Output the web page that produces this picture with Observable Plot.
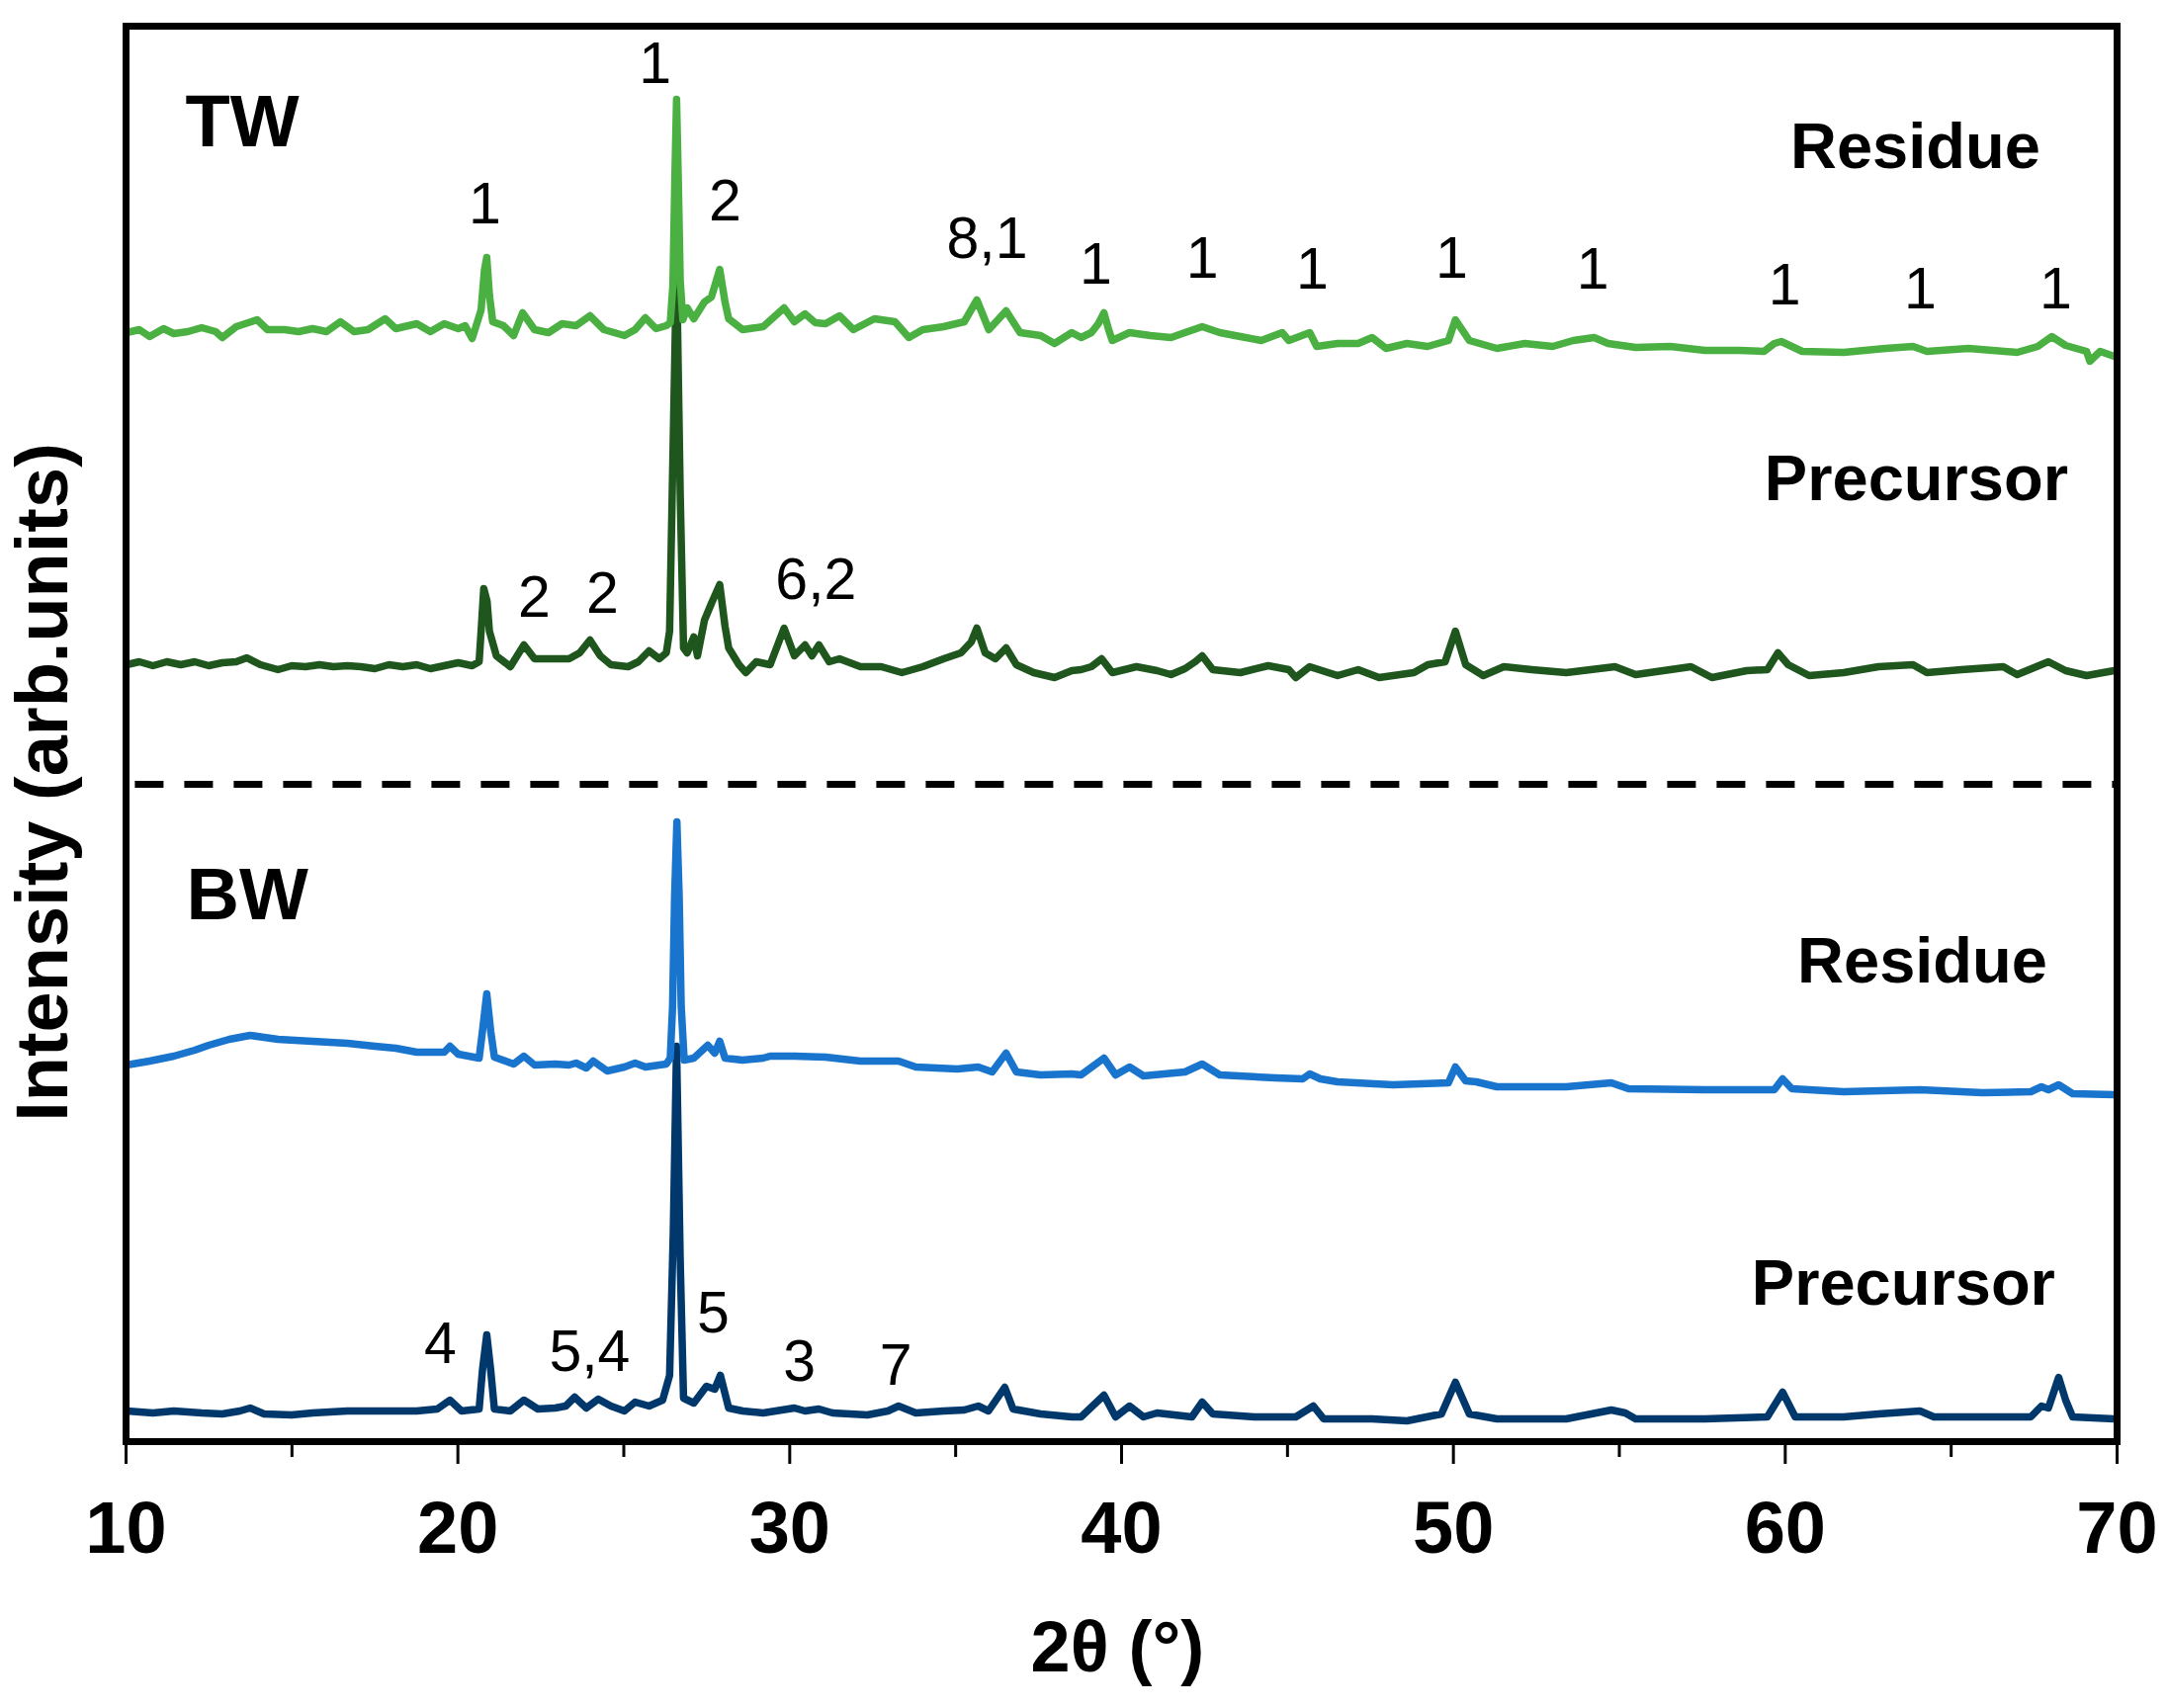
<!DOCTYPE html>
<html>
<head>
<meta charset="utf-8">
<script src="https://cdn.jsdelivr.net/npm/d3@7"></script>
<script src="https://cdn.jsdelivr.net/npm/@observablehq/plot@0.6"></script>
<style>
  html, body { margin: 0; padding: 0; background: #ffffff; }
  #chart svg { display: block; }
</style>
</head>
<body>
<div id="chart"></div>
<script>
// ---------- DATA (2θ in degrees, intensity in arbitrary units, stacked) ----------
const twResidueX = [10.02,10.40,10.71,11.13,11.44,11.86,12.28,12.70,12.90,13.32,13.95,14.26,14.78,15.20,15.62,16.04,16.46,16.87,17.29,17.81,18.13,18.76,19.17,19.59,20.01,20.22,20.43,20.70,20.80,20.87,20.95,21.05,21.37,21.68,21.95,22.31,22.73,23.14,23.56,23.98,24.40,25.02,25.34,25.65,25.97,26.28,26.40,26.48,26.54,26.59,26.64,26.70,26.78,26.91,27.11,27.43,27.64,27.89,28.05,28.16,28.58,29.20,29.83,30.14,30.46,30.77,31.08,31.50,31.92,32.55,33.17,33.59,34.01,34.64,35.26,35.64,36.00,36.52,36.94,37.56,37.98,38.50,38.78,39.09,39.30,39.47,39.61,39.72,40.24,40.87,41.49,41.91,42.43,42.96,43.58,44.21,44.84,45.04,45.67,45.88,46.51,47.13,47.55,47.97,48.60,49.22,49.85,50.06,50.48,51.31,52.15,52.99,53.61,54.24,54.66,55.49,56.54,57.58,58.63,59.36,59.67,59.88,60.51,61.76,63.02,63.85,64.27,65.52,66.99,67.61,68.03,68.45,69.08,69.18,69.49,69.91];
const twResidueY = [112.2,112.5,111.8,112.6,112.1,112.3,112.7,112.3,111.7,112.8,113.5,112.5,112.5,112.3,112.6,112.3,113.3,112.3,112.5,113.6,112.6,113.1,112.3,113.1,112.6,112.9,111.6,114.5,118.5,119.8,116.0,113.3,112.9,111.9,114.2,112.5,112.2,113.1,112.9,113.9,112.5,111.9,112.5,113.7,112.6,112.9,113.2,117.0,128.0,135.8,128.0,117.5,113.5,114.7,113.6,115.3,115.8,118.6,115.3,113.6,112.5,112.8,114.7,113.3,114.1,113.2,113.1,113.9,112.5,113.6,113.3,111.7,112.5,112.8,113.3,115.5,112.5,114.4,112.2,111.9,111.1,112.2,111.7,112.2,113.1,114.2,112.5,111.4,112.2,111.9,111.7,112.2,112.8,112.2,111.8,111.4,112.2,111.4,112.2,110.8,111.1,111.1,111.7,110.6,111.1,110.8,111.4,113.5,111.4,110.6,111.1,110.8,111.4,111.7,111.1,110.7,110.8,110.4,110.4,110.3,111.1,111.3,110.3,110.2,110.6,110.8,110.3,110.6,110.2,110.8,111.8,110.9,110.3,109.3,110.3,109.8];

const twPrecursorX = [10.02,10.40,10.81,11.23,11.65,12.07,12.49,12.90,13.32,13.64,14.05,14.58,14.99,15.41,15.83,16.25,16.67,17.08,17.50,17.92,18.34,18.76,19.17,19.59,20.01,20.43,20.64,20.70,20.78,20.88,20.95,21.16,21.58,21.99,22.31,22.73,23.35,23.67,23.98,24.29,24.61,25.13,25.44,25.76,26.07,26.28,26.38,26.49,26.59,26.70,26.80,26.91,27.11,27.22,27.43,27.64,27.89,28.05,28.16,28.47,28.68,28.99,29.41,29.83,30.14,30.46,30.67,30.88,31.19,31.50,32.13,32.76,33.38,34.01,34.64,35.16,35.47,35.64,35.89,36.20,36.52,36.83,37.35,37.98,38.50,38.78,39.09,39.40,39.72,40.45,41.07,41.49,41.91,42.22,42.43,42.75,43.58,44.42,45.04,45.25,45.67,46.51,47.13,47.76,48.81,49.23,49.75,50.06,50.37,50.90,51.52,52.36,53.40,54.87,55.49,57.16,57.79,58.84,59.46,59.78,60.09,60.72,61.76,62.81,63.85,64.27,65.31,66.57,66.99,67.93,68.45,69.08,69.91];
const twPrecursorY = [78.6,78.9,78.5,78.9,78.6,78.9,78.5,78.8,78.9,79.3,78.6,78.1,78.5,78.4,78.6,78.4,78.5,78.4,78.2,78.6,78.4,78.6,78.2,78.5,78.8,78.5,78.9,82.0,86.3,85.0,82.0,79.5,78.4,80.6,79.2,79.2,79.2,79.8,81.1,79.5,78.6,78.4,78.9,80.0,79.2,79.8,82.0,101.4,119.2,95.9,80.3,79.8,81.4,79.5,83.1,84.8,86.7,82.5,80.3,78.6,77.8,78.9,78.6,82.3,79.5,80.6,79.5,80.6,78.9,79.2,78.4,78.4,77.8,78.4,79.2,79.8,80.9,82.3,79.8,79.2,80.3,78.6,77.8,77.3,78.0,78.1,78.4,79.2,77.8,78.4,78.0,77.6,78.2,78.9,79.5,78.1,77.8,78.5,78.1,77.3,78.4,77.5,78.1,77.3,77.8,78.6,78.9,82.0,78.6,77.5,78.4,78.1,77.8,78.4,77.6,78.4,77.3,78.0,78.1,79.8,78.6,77.5,77.8,78.4,78.6,77.8,78.1,78.4,77.6,78.9,78.0,77.5,78.0];

const bwResidueX = [10.02,10.71,11.44,12.07,12.49,13.11,13.74,14.16,14.58,15.62,16.67,17.50,18.13,18.76,19.59,19.76,20.01,20.64,20.74,20.87,20.99,21.10,21.68,21.99,22.31,22.93,23.35,23.56,23.87,24.08,24.50,25.02,25.34,25.65,26.28,26.40,26.47,26.53,26.60,26.67,26.73,26.82,27.11,27.53,27.74,27.89,28.05,28.58,29.20,29.41,30.14,31.08,32.13,33.28,33.80,35.05,35.68,36.10,36.52,36.83,37.56,38.50,38.78,39.47,39.82,40.24,40.66,41.91,42.43,42.96,44.63,45.46,45.67,45.99,46.51,48.18,49.85,50.06,50.37,50.69,51.31,53.40,54.76,55.28,57.58,59.67,59.92,60.20,61.76,64.06,65.94,67.40,67.72,67.93,68.24,68.66,69.91];
const bwResidueY = [38.1,38.5,39.0,39.6,40.1,40.7,41.1,40.9,40.7,40.5,40.3,40.0,39.8,39.4,39.4,40.0,39.2,38.8,41.5,45.3,41.5,38.9,38.2,39.0,38.1,38.2,38.1,38.3,37.8,38.5,37.5,37.9,38.3,37.9,38.2,38.8,44.0,55.0,62.7,55.0,44.0,38.6,38.8,40.1,39.3,40.5,38.8,38.6,38.8,39.0,39.0,38.9,38.5,38.5,37.9,37.7,37.9,37.4,39.3,37.4,37.1,37.2,37.1,38.8,37.1,37.9,37.0,37.4,38.2,37.1,36.8,36.7,37.2,36.7,36.4,36.1,36.3,37.9,36.5,36.4,35.9,35.9,36.3,35.7,35.6,35.6,36.7,35.7,35.4,35.6,35.3,35.4,35.9,35.6,36.1,35.2,35.1];

const bwPrecursorX = [10.02,10.81,11.44,12.28,12.90,13.43,13.74,14.16,14.99,15.62,16.67,17.71,18.76,19.38,19.76,20.11,20.64,20.74,20.87,20.99,21.10,21.58,21.99,22.41,22.93,23.25,23.52,23.87,24.23,24.61,25.02,25.34,25.76,26.17,26.38,26.49,26.59,26.70,26.80,27.11,27.49,27.74,27.91,28.16,28.58,29.20,30.14,30.46,30.88,31.29,32.34,32.96,33.28,33.80,34.64,35.26,35.68,35.99,36.48,36.73,37.56,38.50,38.78,39.47,39.82,40.24,40.66,41.07,42.12,42.43,42.75,44.00,45.25,45.78,46.09,47.55,48.60,49.64,50.06,50.48,51.31,53.40,54.76,55.18,55.49,57.58,59.46,59.92,60.30,61.76,62.81,64.06,64.48,65.94,67.40,67.72,67.93,68.24,68.45,68.66,69.91];
const bwPrecursorY = [3.1,2.9,3.1,2.9,2.8,3.1,3.4,2.8,2.7,2.9,3.1,3.1,3.1,3.3,4.2,3.1,3.3,7.2,10.8,7.2,3.3,3.1,4.2,3.3,3.4,3.6,4.5,3.4,4.3,3.6,3.1,4.0,3.6,4.2,6.7,21.0,40.0,18.3,4.4,3.9,5.6,5.3,6.7,3.4,3.1,2.9,3.4,3.1,3.3,2.9,2.7,3.1,3.6,2.9,3.1,3.2,3.6,3.1,5.5,3.3,2.8,2.5,2.5,4.7,2.5,3.6,2.5,2.9,2.5,4.0,2.8,2.5,2.5,3.6,2.3,2.3,2.1,2.8,6.0,2.8,2.3,2.3,3.2,2.9,2.3,2.3,2.5,5.0,2.5,2.5,2.8,3.1,2.5,2.5,2.5,3.6,3.4,6.5,4.2,2.5,2.3];

// Peak phase labels
const peakLabelText = ["1","1","2","8,1","1","1","1","1","1","1","1","1", "2","2","6,2", "4","5,4","5","3","7"];
const peakLabelX    = [25.94,20.81,28.05,35.95,39.22,42.43,45.75,49.95,54.20,59.98,64.07,68.15, 22.30,24.36,30.79, 19.47,23.97,27.69,30.29,33.20];
const peakLabelY    = [137.5,123.3,123.6,119.8,117.2,117.8,116.7,117.8,116.7,115.1,114.7,114.7, 83.5,83.9,85.3, 8.0,7.2,11.1,6.2,5.8];

// Panel / pattern labels
const groupText = ["TW","BW"];
const groupX = [11.79, 11.82];
const groupY = [131.1, 52.9];
const sampleText = ["Residue","Precursor","Residue","Precursor"];
const sampleX = [63.92, 63.95, 64.13, 63.56];
const sampleY = [128.9, 95.3, 46.5, 13.9];

// Separator between TW and BW panels
const separatorY = [66.5];

// Axis ticks and titles
const majorTicks = [10,20,30,40,50,60,70];
const minorTicks = [15,25,35,45,55,65];
const xTitle = "2θ (°)";
const yTitle = "Intensity (arb.units)";

// ---------- BUILD ----------
const pts = (xs, ys) => xs.map((x, i) => ({x, y: ys[i]}));
const twRes = pts(twResidueX, twResidueY);
const twPre = pts(twPrecursorX, twPrecursorY);
const bwRes = pts(bwResidueX, bwResidueY);
const bwPre = pts(bwPrecursorX, bwPrecursorY);
const peakLabels = peakLabelText.map((t, i) => ({t, x: peakLabelX[i], y: peakLabelY[i]}));
const groups = groupText.map((t, i) => ({t, x: groupX[i], y: groupY[i]}));
const samples = sampleText.map((t, i) => ({t, x: sampleX[i], y: sampleY[i]}));

const FONT = "'Liberation Sans', Arial, Helvetica, sans-serif";
const lineOpts = {x: "x", y: "y", strokeWidth: 7.5, strokeLinejoin: "round", strokeLinecap: "round"};

const chart = Plot.plot({
  width: 2193,
  height: 1728,
  marginLeft: 127,
  marginRight: 52,
  marginTop: 26,
  marginBottom: 270,
  style: {fontFamily: FONT, background: "#ffffff", overflow: "visible", color: "black"},
  x: {domain: [10, 70], axis: null},
  y: {domain: [0, 143.2], axis: null},
  marks: [
    Plot.ruleY(separatorY, {x1: 10.28, x2: 70, stroke: "black", strokeWidth: 7, strokeDasharray: "29,21"}),
    Plot.line(twPre, {...lineOpts, stroke: "#1e561e"}),
    Plot.line(twRes, {...lineOpts, stroke: "#4bb042"}),
    Plot.line(bwPre, {...lineOpts, stroke: "#00386c"}),
    Plot.line(bwRes, {...lineOpts, stroke: "#1874cc"}),
    Plot.frame({stroke: "black", strokeWidth: 7}),
    Plot.axisX(majorTicks, {anchor: "bottom", tickSize: 23, tickPadding: 37, strokeWidth: 3, fontSize: 74, fontWeight: "bold", label: null, tickFormat: d => String(d), fill: "black"}),
    Plot.axisX(minorTicks, {anchor: "bottom", tickSize: 16, strokeWidth: 3, label: null, tickFormat: () => ""}),
    Plot.text(peakLabels, {x: "x", y: "y", text: "t", fontSize: 59, lineAnchor: "bottom", textAnchor: "middle", fill: "black"}),
    Plot.text(groups, {x: "x", y: "y", text: "t", fontSize: 74, fontWeight: "bold", lineAnchor: "bottom", textAnchor: "start", fill: "black"}),
    Plot.text(samples, {x: "x", y: "y", text: "t", fontSize: 65, fontWeight: "bold", lineAnchor: "bottom", textAnchor: "middle", fill: "black"}),
    Plot.text([xTitle], {x: 39.88, y: -23.2, text: d => d, fontSize: 72, fontWeight: "bold", lineAnchor: "bottom", textAnchor: "middle", fill: "black"}),
    Plot.text([yTitle], {x: 8.24, y: 66.7, text: d => d, fontSize: 74, fontWeight: "bold", rotate: -90, lineAnchor: "bottom", textAnchor: "middle", fill: "black"})
  ]
});
document.getElementById("chart").appendChild(chart);
</script>
</body>
</html>
